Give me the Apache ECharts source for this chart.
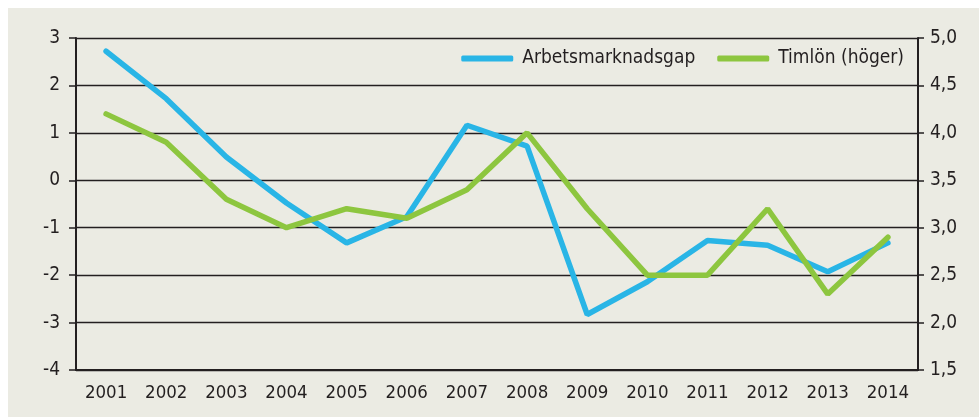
<!DOCTYPE html>
<html>
<head>
<meta charset="utf-8">
<script src="https://cdn.jsdelivr.net/npm/echarts@6/dist/echarts.min.js"></script>
<style>
  html, body { margin: 0; padding: 0; background: #ffffff; }
  #chart { position: absolute; left: 8px; top: 8px; width: 971px; height: 409px; background: #ebebe3; }
</style>
</head>
<body>
<div id="chart"></div>
<script>
const years = ['2001', '2002', '2003', '2004', '2005', '2006', '2007', '2008', '2009', '2010', '2011', '2012', '2013', '2014']
const arbetsmarknadsgap = [2.72, 1.72, 0.49, -0.48, -1.32, -0.77, 1.16, 0.72, -2.83, -2.14, -1.27, -1.37, -1.93, -1.32]
const timlon = [4.2, 3.9, 3.3, 3.0, 3.2, 3.1, 3.4, 4.0, 3.2, 2.5, 2.5, 3.2, 2.3, 2.9]

const font = '"Liberation Sans Narrow", "DejaVu Sans Condensed", sans-serif'
const ink = '#231f20'
const blue = '#29b5e6'
const green = '#8dc63f'

const chart = echarts.init(document.getElementById('chart'))
chart.setOption({
  backgroundColor: '#ebebe3',
  animation: false,
  textStyle: {fontFamily: font},
  grid: {left: 68, right: 61, top: 30, bottom: 47},
  legend: {
    right: 70,
    top: 36,
    itemWidth: 52,
    itemHeight: 6,
    itemGap: 22,
    icon: 'roundRect',
    textStyle: {fontFamily: font, fontSize: 19, color: ink, padding: [0, 0, 0, 4]},
    data: ['Arbetsmarknadsgap', 'Timlön (höger)']
  },
  xAxis: {
    type: 'category',
    data: years,
    boundaryGap: true,
    axisLine: {onZero: false, lineStyle: {color: ink, width: 2}},
    axisTick: {show: false},
    axisLabel: {color: ink, fontSize: 18.5, fontFamily: font, margin: 14}
  },
  yAxis: [{
    type: 'value',
    min: -4,
    max: 3,
    interval: 1,
    axisLine: {show: true, lineStyle: {color: ink, width: 2}},
    axisTick: {show: true, length: 7, lineStyle: {color: ink, width: 1.5}},
    axisLabel: {color: ink, fontSize: 19, fontFamily: font, margin: 16},
    splitLine: {lineStyle: {color: ink, width: 1.4}}
  }, {
    type: 'value',
    min: 1.5,
    max: 5,
    interval: 0.5,
    position: 'right',
    axisLine: {show: true, lineStyle: {color: ink, width: 2}},
    axisTick: {show: true, length: 6, lineStyle: {color: ink, width: 1.5}},
    axisLabel: {
      color: ink, fontSize: 19, fontFamily: font, margin: 12,
      formatter: v => v.toFixed(1).replace('.', ',')
    },
    splitLine: {show: false}
  }],
  series: [{
    name: 'Arbetsmarknadsgap',
    type: 'line',
    yAxisIndex: 0,
    data: arbetsmarknadsgap,
    symbol: 'none',
    lineStyle: {color: blue, width: 5.5, cap: 'round'},
    itemStyle: {color: blue}
  }, {
    name: 'Timlön (höger)',
    type: 'line',
    yAxisIndex: 1,
    data: timlon,
    symbol: 'none',
    lineStyle: {color: green, width: 5.5, cap: 'round'},
    itemStyle: {color: green}
  }]
})
</script>
</body>
</html>
